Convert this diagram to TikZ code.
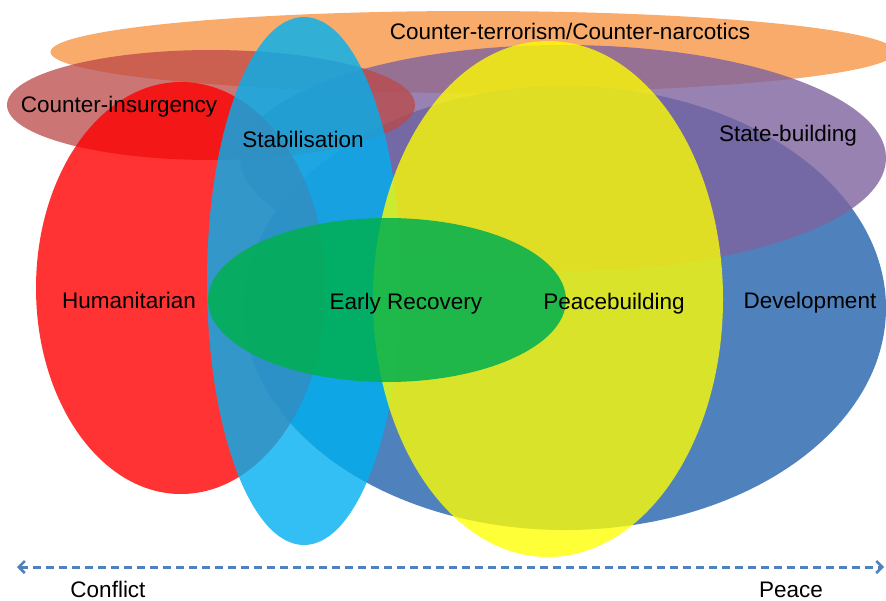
\documentclass[tikz,border=0pt]{standalone}
\usepackage{fontspec}
\setmainfont{Liberation Sans}
\usetikzlibrary{shapes.geometric,arrows.meta}
\definecolor{humred}{RGB}{255,0,0}
\definecolor{cired}{RGB}{188,72,72}
\definecolor{devblue}{RGB}{79,129,189}
\definecolor{sbpurple}{RGB}{126,99,159}
\definecolor{ctorange}{RGB}{247,150,70}
\definecolor{stabcyan}{RGB}{0,176,240}
\definecolor{pbyellow}{RGB}{255,255,0}
\definecolor{ergreen}{RGB}{0,176,80}
\definecolor{arrowblue}{RGB}{79,129,189}
\tikzset{
  blob/.style={ellipse, inner sep=0pt, draw=none},
  lbl/.style={inner sep=0pt, anchor=base, font=\fontsize{22.5}{27}\selectfont, text=black},
  spectrum/.style={draw=arrowblue, line width=3pt, dash pattern=on 8pt off 5pt,
    {Straight Barb[length=6pt,width=12pt,line width=2.5pt]}-{Straight Barb[length=6pt,width=12pt,line width=2.5pt]}}
}
\begin{document}
\begin{tikzpicture}[x=1pt,y=-1pt]
\useasboundingbox[fill=white] (0,0) rectangle (886,600);
% ellipses, bottom to top
\node[blob, fill=ctorange, fill opacity=0.8, minimum width=845pt, minimum height=82pt] (ct) at (473,52) {};
\node[blob, fill=devblue, minimum width=642pt, minimum height=444pt] (dev) at (565,308) {};
\node[blob, fill=sbpurple, fill opacity=0.8, minimum width=646pt, minimum height=226pt] (sb) at (563,158) {};
\node[blob, fill=cired, fill opacity=0.75, minimum width=408pt, minimum height=110pt] (ci) at (211,105) {};
\node[blob, fill=humred, fill opacity=0.8, minimum width=290pt, minimum height=412pt] (hum) at (181,288) {};
\node[blob, fill=stabcyan, fill opacity=0.8, minimum width=194pt, minimum height=528pt] (stab) at (304,281) {};
\node[blob, fill=pbyellow, fill opacity=0.78, minimum width=350pt, minimum height=516pt] (pb) at (548,299) {};
\node[blob, fill=ergreen, fill opacity=0.85, minimum width=358pt, minimum height=164pt] (er) at (387,300) {};
% labels
\node[lbl] (tct) at (570,39) {Counter-terrorism/Counter-narcotics};
\node[lbl] (tci) at (119,112) {Counter-insurgency};
\node[lbl] (tstab) at (303,147) {Stabilisation};
\node[lbl] (tsb) at (788,141) {State-building};
\node[lbl] (thum) at (129,308) {Humanitarian};
\node[lbl] (ter) at (406,309) {Early Recovery};
\node[lbl] (tpb) at (614,309) {Peacebuilding};
\node[lbl] (tdev) at (810,308) {Development};
\node[lbl] (tcon) at (108,597) {Conflict};
\node[lbl] (tpeace) at (791,597) {Peace};
% spectrum arrow
\coordinate (left) at (17,567);
\coordinate (right) at (884,567);
\draw[spectrum] (left) -- (right);
\end{tikzpicture}
\end{document}
